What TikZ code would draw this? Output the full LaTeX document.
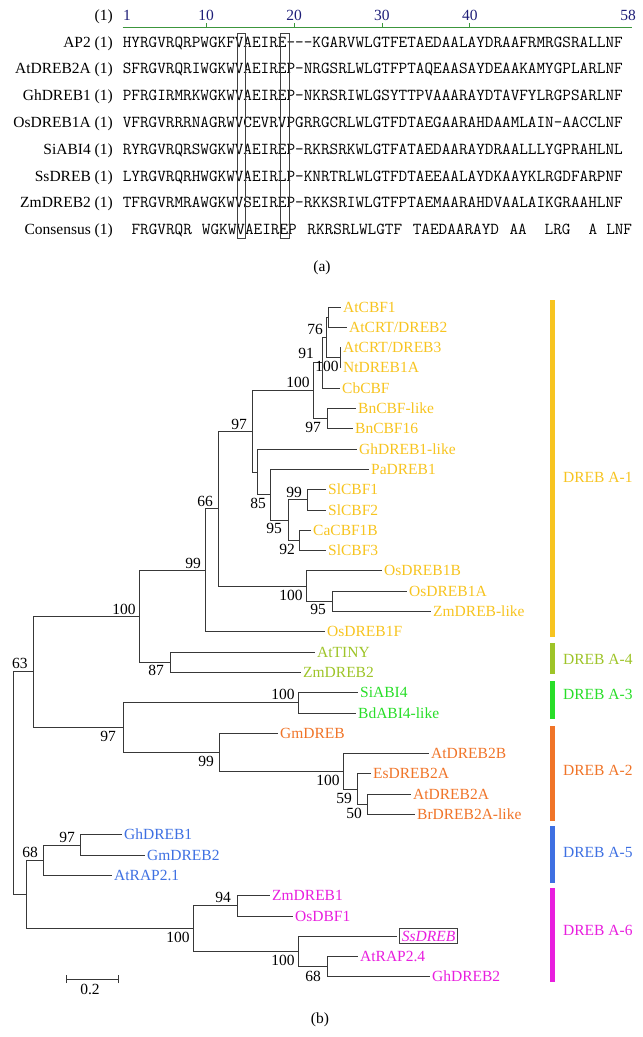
\documentclass[tikz,border=0pt]{standalone}
\usepackage{fontspec}
\setmainfont{Liberation Serif}
\definecolor{caA}{RGB}{247,196,32}
\definecolor{caD}{RGB}{158,196,40}
\definecolor{caC}{RGB}{40,222,40}
\definecolor{caB}{RGB}{240,116,40}
\definecolor{caE}{RGB}{62,112,226}
\definecolor{caF}{RGB}{232,30,222}
\definecolor{navyc}{RGB}{30,30,120}
\definecolor{grnc}{RGB}{60,150,60}
\newcommand\lblfont{\fontsize{15.5}{18}\selectfont}
\newcommand\seqfnt{\ttfamily\addfontfeatures{FakeBold=1.2}\fontsize{16.74}{18}\selectfont}
\begin{document}
\begin{tikzpicture}[x=1pt,y=-1pt,
  br/.style={line width=0.9pt, draw=black!78},
  tx/.style={inner sep=0pt, text height=10pt, text depth=0pt, font=\lblfont},
  leaf/.style={tx, anchor=west, inner xsep=2pt},
  bs/.style={tx, anchor=center},
  rowlab/.style={tx, anchor=east},
  seq/.style={inner sep=0pt, text height=10pt, text depth=0pt, anchor=west, font=\seqfnt},
  num/.style={tx, anchor=center, text=navyc},
  colbox/.style={draw=black!75, line width=0.8pt},
  bar/.style={line width=5pt},
  grp/.style={tx, anchor=west}]
\useasboundingbox (0,0) rectangle (643,1037);

% ---------- (a) alignment ----------
\node[rowlab] (hdr) at (113,15) {(1)};
\node[num] (c1) at (127,15) {1};
\node[num] (c10) at (206.1,15) {10};
\node[num] (c20) at (294,15) {20};
\node[num] (c30) at (381.9,15) {30};
\node[num] (c40) at (469.8,15) {40};
\node[num] (c58) at (628,15) {58};
\draw[grnc, line width=0.8pt] (122.6,27) -- (632.4,27);
\foreach \xx in {206.1,294,381.9,469.8} \draw[grnc, line width=0.8pt] (\xx,27) -- (\xx,23);

\node[rowlab] (rAP2) at (113,42) {AP2 (1)};
\node[seq] (sAP2) at (122.6,42) {HYRGVRQRPWGKFVAEIRE---KGARVWLGTFETAEDAALAYDRAAFRMRGSRALLNF};
\node[rowlab] (rAt) at (113,68.8) {AtDREB2A (1)};
\node[seq] (sAt) at (122.6,68.8) {SFRGVRQRIWGKWVAEIREP-NRGSRLWLGTFPTAQEAASAYDEAAKAMYGPLARLNF};
\node[rowlab] (rGh) at (113,95.6) {GhDREB1 (1)};
\node[seq] (sGh) at (122.6,95.6) {PFRGIRMRKWGKWVAEIREP-NKRSRIWLGSYTTPVAAARAYDTAVFYLRGPSARLNF};
\node[rowlab] (rOs) at (113,122.4) {OsDREB1A (1)};
\node[seq] (sOs) at (122.6,122.4) {VFRGVRRRNAGRWVCEVRVPGRRGCRLWLGTFDTAEGAARAHDAAMLAIN-AACCLNF};
\node[rowlab] (rSi) at (113,149.2) {SiABI4 (1)};
\node[seq] (sSi) at (122.6,149.2) {RYRGVRQRSWGKWVAEIREP-RKRSRKWLGTFATAEDAARAYDRAALLLYGPRAHLNL};
\node[rowlab] (rSs) at (113,176) {SsDREB (1)};
\node[seq] (sSs) at (122.6,176) {LYRGVRQRHWGKWVAEIRLP-KNRTRLWLGTFDTAEEAALAYDKAAYKLRGDFARPNF};
\node[rowlab] (rZm) at (113,202.8) {ZmDREB2 (1)};
\node[seq] (sZm) at (122.6,202.8) {TFRGVRMRAWGKWVSEIREP-RKKSRIWLGTFPTAEMAARAHDVAALAIKGRAAHLNF};
\node[rowlab] (rCo) at (113,229.6) {Consensus (1)};
\node[seq] (k1) at (131.39,229.6) {FRGVRQR};
\node[seq] (k2) at (201.71,229.6) {WGKWVAEIREP};
\node[seq] (k3) at (307.19,229.6) {RKRSRLWLGTF};
\node[seq] (k4) at (412.67,229.6) {TAEDAARAYD};
\node[seq] (k5) at (509.36,229.6) {AA};
\node[seq] (k6) at (544.52,229.6) {LRG};
\node[seq] (k7) at (588.47,229.6) {A};
\node[seq] (k8) at (606.05,229.6) {LNF};
\draw[colbox] (236.9,33) rectangle (245.7,238);
\draw[colbox] (280.8,33) rectangle (289.6,238);
\node[bs] (capa) at (322,266) {(a)};

% ---------- (b) tree: internal nodes ----------
\coordinate (root) at (13,783.2);
\coordinate (n63) at (33,671.9);
\coordinate (n100b) at (139,616.25);
\coordinate (n99) at (205,570.25);
\coordinate (n66) at (218,508.7);
\coordinate (n97u) at (252,431.3);
\coordinate (nCBF) at (313,390.7);
\coordinate (n91) at (322,362.8);
\coordinate (nX) at (326,337.45);
\coordinate (n76) at (328,317.15);
\coordinate (nD3) at (340,357.75);
\coordinate (nBn) at (327,418.65);
\coordinate (n85) at (257,471.95);
\coordinate (nPa) at (270,494.8);
\coordinate (n95) at (288,520.15);
\coordinate (nSl) at (307,499.85);
\coordinate (n92) at (299,540.45);
\coordinate (nOsA) at (306,586.1);
\coordinate (nOsB) at (332,601.35);
\coordinate (n87) at (170,662.25);
\coordinate (n97m) at (123,727.6);
\coordinate (nA3) at (298,702.85);
\coordinate (nB99) at (219,752.3);
\coordinate (nB100) at (343,771.35);
\coordinate (n59) at (357,789.1);
\coordinate (n50) at (367,804.35);
\coordinate (n68r) at (26,894.45);
\coordinate (nE68) at (43,860.2);
\coordinate (nE97) at (80,844.95);
\coordinate (nF) at (193,928.7);
\coordinate (n94) at (237,905.85);
\coordinate (nF100) at (298,951.5);
\coordinate (nF68) at (327,966.75);

% ---------- leaves ----------
\node[leaf, text=caA] (l0) at (341,307.0) {AtCBF1};
\node[leaf, text=caA] (l1) at (347,327.3) {AtCRT/DREB2};
\node[leaf, text=caA] (l2) at (341,347.6) {AtCRT/DREB3};
\node[leaf, text=caA] (l3) at (341,367.9) {NtDREB1A};
\node[leaf, text=caA] (l4) at (340,388.2) {CbCBF};
\node[leaf, text=caA] (l5) at (356,408.5) {BnCBF-like};
\node[leaf, text=caA] (l6) at (353,428.8) {BnCBF16};
\node[leaf, text=caA] (l7) at (357,449.1) {GhDREB1-like};
\node[leaf, text=caA] (l8) at (369,469.4) {PaDREB1};
\node[leaf, text=caA] (l9) at (326,489.7) {SlCBF1};
\node[leaf, text=caA] (l10) at (326,510.0) {SlCBF2};
\node[leaf, text=caA] (l11) at (311,530.3) {CaCBF1B};
\node[leaf, text=caA] (l12) at (326,550.6) {SlCBF3};
\node[leaf, text=caA] (l13) at (382,570.9) {OsDREB1B};
\node[leaf, text=caA] (l14) at (407,591.2) {OsDREB1A};
\node[leaf, text=caA] (l15) at (431,611.5) {ZmDREB-like};
\node[leaf, text=caA] (l16) at (325,631.8) {OsDREB1F};
\node[leaf, text=caD] (l17) at (315,652.1) {AtTINY};
\node[leaf, text=caD] (l18) at (301,672.4) {ZmDREB2};
\node[leaf, text=caC] (l19) at (358,692.7) {SiABI4};
\node[leaf, text=caC] (l20) at (356,713.0) {BdABI4-like};
\node[leaf, text=caB] (l21) at (278,733.3) {GmDREB};
\node[leaf, text=caB] (l22) at (429,753.6) {AtDREB2B};
\node[leaf, text=caB] (l23) at (371,773.9) {EsDREB2A};
\node[leaf, text=caB] (l24) at (411,794.2) {AtDREB2A};
\node[leaf, text=caB] (l25) at (415,814.5) {BrDREB2A-like};
\node[leaf, text=caE] (l26) at (122,834.8) {GhDREB1};
\node[leaf, text=caE] (l27) at (145,855.1) {GmDREB2};
\node[leaf, text=caE] (l28) at (112,875.4) {AtRAP2.1};
\node[leaf, text=caF] (l29) at (270,895.7) {ZmDREB1};
\node[leaf, text=caF] (l30) at (293,916.0) {OsDBF1};
\node[tx, anchor=west, text=caF, draw=black!75, line width=0.7pt, inner xsep=2.5pt, inner ysep=2.5pt] (l31) at (399,936.3) {\itshape SsDREB};
\node[leaf, text=caF] (l32) at (358,956.6) {AtRAP2.4};
\node[leaf, text=caF] (l33) at (430,976.9) {GhDREB2};

% ---------- branches ----------
\draw[br] (root) |- (n63);
\draw[br] (root) |- (n68r);
\draw[br] (n63) |- (n100b);
\draw[br] (n63) |- (n97m);
\draw[br] (n100b) |- (n99);
\draw[br] (n100b) |- (n87);
\draw[br] (n99) |- (n66);
\draw[br] (n99) |- (l16.west);
\draw[br] (n66) |- (n97u);
\draw[br] (n66) |- (nOsA);
\draw[br] (n97u) |- (nCBF);
\draw[br] (n97u) |- (n85);
\draw[br] (nCBF) |- (n91);
\draw[br] (nCBF) |- (nBn);
\draw[br] (n91) |- (nX);
\draw[br] (n91) |- (l4.west);
\draw[br] (nX) |- (n76);
\draw[br] (nX) |- (nD3);
\draw[br] (n76) |- (l0.west);
\draw[br] (n76) |- (l1.west);
\draw[br] (nD3) |- (l2.west);
\draw[br] (nD3) |- (l3.west);
\draw[br] (nBn) |- (l5.west);
\draw[br] (nBn) |- (l6.west);
\draw[br] (n85) |- (l7.west);
\draw[br] (n85) |- (nPa);
\draw[br] (nPa) |- (l8.west);
\draw[br] (nPa) |- (n95);
\draw[br] (n95) |- (nSl);
\draw[br] (n95) |- (n92);
\draw[br] (nSl) |- (l9.west);
\draw[br] (nSl) |- (l10.west);
\draw[br] (n92) |- (l11.west);
\draw[br] (n92) |- (l12.west);
\draw[br] (nOsA) |- (l13.west);
\draw[br] (nOsA) |- (nOsB);
\draw[br] (nOsB) |- (l14.west);
\draw[br] (nOsB) |- (l15.west);
\draw[br] (n87) |- (l17.west);
\draw[br] (n87) |- (l18.west);
\draw[br] (n97m) |- (nA3);
\draw[br] (n97m) |- (nB99);
\draw[br] (nA3) |- (l19.west);
\draw[br] (nA3) |- (l20.west);
\draw[br] (nB99) |- (l21.west);
\draw[br] (nB99) |- (nB100);
\draw[br] (nB100) |- (l22.west);
\draw[br] (nB100) |- (n59);
\draw[br] (n59) |- (l23.west);
\draw[br] (n59) |- (n50);
\draw[br] (n50) |- (l24.west);
\draw[br] (n50) |- (l25.west);
\draw[br] (n68r) |- (nE68);
\draw[br] (n68r) |- (nF);
\draw[br] (nE68) |- (nE97);
\draw[br] (nE68) |- (l28.west);
\draw[br] (nE97) |- (l26.west);
\draw[br] (nE97) |- (l27.west);
\draw[br] (nF) |- (n94);
\draw[br] (nF) |- (nF100);
\draw[br] (n94) |- (l29.west);
\draw[br] (n94) |- (l30.west);
\draw[br] (nF100) |- ([xshift=-2pt]l31.west);
\draw[br] (nF100) |- (nF68);
\draw[br] (nF68) |- (l32.west);
\draw[br] (nF68) |- (l33.west);

% ---------- bootstrap values ----------
\node[bs] (b1) at (315,329) {76};
\node[bs] (b2) at (306,353) {91};
\node[bs] (b3) at (327,366) {100};
\node[bs] (b4) at (298,382) {100};
\node[bs] (b5) at (313,427) {97};
\node[bs] (b6) at (239,424) {97};
\node[bs] (b7) at (258,503) {85};
\node[bs] (b8) at (294,492) {99};
\node[bs] (b9) at (274,528) {95};
\node[bs] (b10) at (287,549) {92};
\node[bs] (b11) at (205,501) {66};
\node[bs] (b12) at (193,563) {99};
\node[bs] (b13) at (291,595) {100};
\node[bs] (b14) at (318,609) {95};
\node[bs] (b15) at (124,609) {100};
\node[bs] (b16) at (156,670) {87};
\node[bs] (b17) at (20,663) {63};
\node[bs] (b18) at (283,694) {100};
\node[bs] (b19) at (108,736) {97};
\node[bs] (b20) at (206,761) {99};
\node[bs] (b21) at (328,780) {100};
\node[bs] (b22) at (344,798) {59};
\node[bs] (b23) at (354,813) {50};
\node[bs] (b24) at (67,837) {97};
\node[bs] (b25) at (30,852) {68};
\node[bs] (b26) at (223,897) {94};
\node[bs] (b27) at (178,937) {100};
\node[bs] (b28) at (283,960) {100};
\node[bs] (b29) at (313,976) {68};

% ---------- group bars ----------
\draw[bar, caA] (552,300) -- (552,637);
\draw[bar, caD] (552,643) -- (552,674);
\draw[bar, caC] (552,681) -- (552,719);
\draw[bar, caB] (552,726) -- (552,821);
\draw[bar, caE] (552,826) -- (552,883);
\draw[bar, caF] (552,888) -- (552,982);
\node[grp, text=caA] (g1) at (563,477) {DREB A-1};
\node[grp, text=caD] (g4) at (563,659) {DREB A-4};
\node[grp, text=caC] (g3) at (563,694) {DREB A-3};
\node[grp, text=caB] (g2) at (563,770) {DREB A-2};
\node[grp, text=caE] (g5) at (563,852) {DREB A-5};
\node[grp, text=caF] (g6) at (563,930) {DREB A-6};

% ---------- scale bar ----------
\coordinate (sbL) at (66,979);
\coordinate (sbR) at (118,979);
\draw[br] (sbL) -- (sbR);
\draw[br] ([yshift=-4pt]sbL) -- ([yshift=4pt]sbL);
\draw[br] ([yshift=-4pt]sbR) -- ([yshift=4pt]sbR);
\node[bs] (sbt) at (90,989) {0.2};
\node[bs] (capb) at (320,1018) {(b)};
\end{tikzpicture}
\end{document}
